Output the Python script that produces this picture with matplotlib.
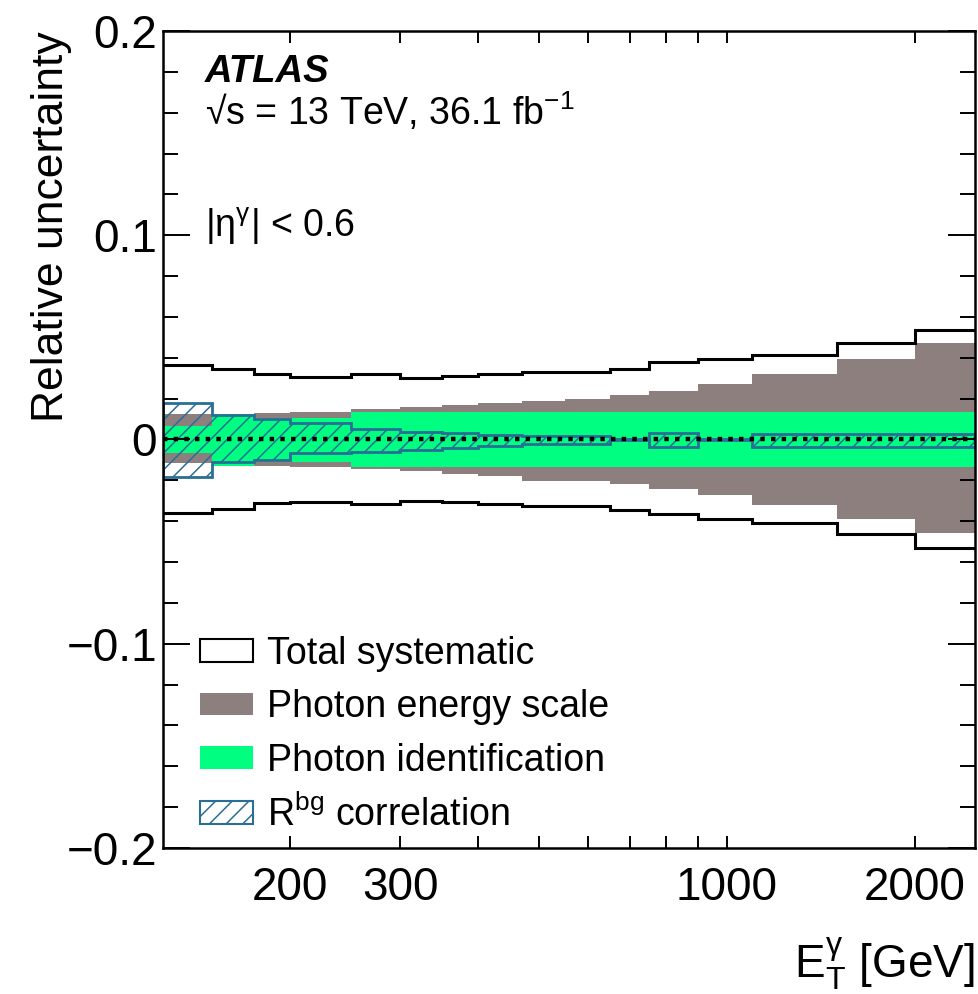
import matplotlib
matplotlib.use('Agg')
import matplotlib.pyplot as plt
import numpy as np
from matplotlib.patches import Patch
from matplotlib.ticker import FixedLocator, FixedFormatter, MultipleLocator, NullLocator

plt.rcParams['font.family'] = ['Liberation Sans', 'DejaVu Sans']
plt.rcParams['mathtext.fontset'] = 'custom'
plt.rcParams['mathtext.rm'] = 'Liberation Sans'
plt.rcParams['mathtext.it'] = 'Liberation Sans:italic'
plt.rcParams['mathtext.bf'] = 'Liberation Sans:bold'
plt.rcParams['hatch.linewidth'] = 1.1

# bin edges in E_T [GeV]
edges = [125, 150, 175, 200, 250, 300, 350, 400, 470, 550, 650, 750, 900, 1100, 1500, 2000, 2500]

tot_up = [0.0364, 0.0346, 0.0323, 0.0307, 0.0322, 0.0302, 0.0310, 0.0323, 0.0331, 0.0331,
          0.0346, 0.0379, 0.0395, 0.0415, 0.0473, 0.0535]
tot_dn = [-0.0359, -0.0338, -0.0312, -0.0304, -0.0315, -0.0302, -0.0307, -0.0315, -0.0328, -0.0327,
          -0.0343, -0.0367, -0.0388, -0.0411, -0.0462, -0.0529]

escale_up = [0.0125, 0.0110, 0.0128, 0.0136, 0.0147, 0.0157, 0.0167, 0.0178, 0.0190, 0.0198,
             0.0218, 0.0239, 0.0270, 0.0319, 0.0393, 0.0471]
escale_dn = [-0.0117, -0.0110, -0.0130, -0.0136, -0.0143, -0.0154, -0.0167, -0.0181, -0.0202, -0.0203,
             -0.0220, -0.0244, -0.0272, -0.0320, -0.0390, -0.0460]

id_up = [0.0067, 0.0125, 0.0104, 0.0104, 0.0133, 0.0133, 0.0133, 0.0133, 0.0133, 0.0133,
         0.0133, 0.0133, 0.0133, 0.0133, 0.0133, 0.0133]
id_dn = [-0.0068, -0.0130, -0.0109, -0.0109, -0.0133, -0.0133, -0.0133, -0.0133, -0.0133, -0.0133,
         -0.0133, -0.0133, -0.0133, -0.0133, -0.0133, -0.0133]

rbg_up = [0.0180, 0.0118, 0.0100, 0.0080, 0.0050, 0.0038, 0.0030, 0.0022, 0.0015, 0.0017,
          0.0004, 0.0033, 0.0004, 0.0027, 0.0027, 0.0027]
rbg_dn = [-0.0185, -0.0110, -0.0100, -0.0068, -0.0060, -0.0050, -0.0042, -0.0032, -0.0022, -0.0022,
          -0.0004, -0.0037, -0.0004, -0.0035, -0.0035, -0.0035]

grey = '#8c7f7d'
green = '#00ff80'
blue = '#2a6e96'

fig = plt.figure(figsize=(9.79, 9.94), dpi=100)
ax = fig.add_axes([0.1665, 0.1469, 0.8294, 0.8219])

ax.stairs(escale_up, edges, baseline=escale_dn, fill=True, facecolor=grey, linewidth=0)
ax.stairs(id_up, edges, baseline=id_dn, fill=True, facecolor=green, linewidth=0)
ax.stairs(rbg_up, edges, baseline=rbg_dn, fill=True, facecolor='none', edgecolor=blue,
          hatch='//', linewidth=2.0)
ax.stairs(tot_up, edges, baseline=None, color='black', linewidth=2.2)
ax.stairs(tot_dn, edges, baseline=None, color='black', linewidth=2.2)
ax.axhline(0, color='black', linewidth=3.2, linestyle=(0, (1, 1.4)))

ax.set_xscale('log')
ax.set_xlim(125, 2500)
ax.set_ylim(-0.2, 0.2)

xt = [200, 300, 400, 500, 600, 700, 800, 900, 1000, 2000]
xl = ['200', '300', '', '', '', '', '', '', '1000', '2000']
ax.xaxis.set_major_locator(FixedLocator(xt))
ax.xaxis.set_major_formatter(FixedFormatter(xl))
ax.xaxis.set_minor_locator(NullLocator())
ax.yaxis.set_major_locator(MultipleLocator(0.1))
ax.yaxis.set_minor_locator(MultipleLocator(0.02))
ax.yaxis.set_major_formatter(matplotlib.ticker.FuncFormatter(
    lambda v, p: '0' if abs(v) < 1e-9 else ('%.1f' % v).replace('-', '\u2212')))

for s in ax.spines.values():
    s.set_linewidth(1.8)
ax.tick_params(axis='both', which='both', direction='in', top=True, right=True, width=1.4)
ax.tick_params(axis='x', which='major', length=8.6, labelsize=33, pad=13)
ax.tick_params(axis='y', which='major', length=19.4, labelsize=33, pad=4.3)
ax.tick_params(axis='y', which='minor', length=10.8)

ax.set_ylabel('Relative uncertainty', fontsize=32, loc='top')
ax.yaxis.set_label_coords(-0.112, 1.0)
ax.set_xlabel(r'$\mathrm{E}_{\mathrm{T}}^{\mathrm{\gamma}}$ [GeV]', fontsize=33, loc='right', labelpad=18)

ax.text(0.0517, 0.9376, 'ATLAS', transform=ax.transAxes, fontsize=27.5,
        fontweight='bold', fontstyle='italic', va='baseline')
ax.text(0.0517, 0.885, '\u221as = 13 TeV, 36.1 fb$^{\\mathrm{-1}}$', transform=ax.transAxes,
        fontsize=27, va='baseline')
ax.text(0.0517, 0.748, r'$|\mathrm{\eta}^{\mathrm{\gamma}}|$ < 0.6', transform=ax.transAxes,
        fontsize=27, va='baseline')

handles = [Patch(facecolor='white', edgecolor='black', linewidth=1.5),
           Patch(facecolor=grey, edgecolor='none'),
           Patch(facecolor=green, edgecolor='none'),
           Patch(facecolor='none', edgecolor=blue, hatch='//', linewidth=1.5)]
labels = ['Total systematic', 'Photon energy scale', 'Photon identification', r'R$^{\mathrm{bg}}$ correlation']
ax.legend(handles, labels, loc='upper left', bbox_to_anchor=(0.0456, 0.2594), frameon=False,
          fontsize=27, handlelength=1.41, handleheight=0.56, handletextpad=0.37,
          labelspacing=0.46, borderpad=0, borderaxespad=0)

fig.savefig('out.png', dpi=100)
